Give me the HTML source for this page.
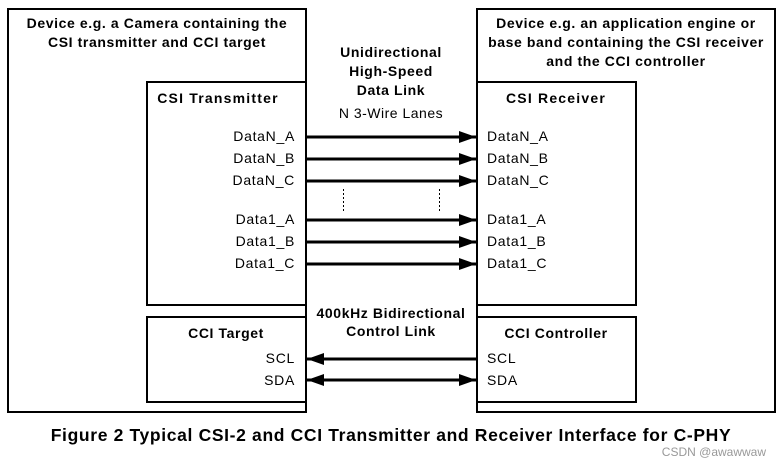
<!DOCTYPE html>
<html><head><meta charset="utf-8"><style>
html,body{margin:0;padding:0;background:#fff;}
svg{display:block;}
text{font-family:"Liberation Sans",Arial,sans-serif;fill:#000;}
.b{font-weight:bold;font-size:14px;letter-spacing:0.6px;}
.n{font-size:14px;letter-spacing:0.7px;}
</style></head><body>
<svg width="782" height="463" viewBox="0 0 782 463" xmlns="http://www.w3.org/2000/svg">
<defs>
<marker id="ah" markerWidth="17" markerHeight="12" refX="17" refY="6" orient="auto" markerUnits="userSpaceOnUse">
<path d="M0,0 L17,6 L0,12 Z" fill="#000"/></marker>
<marker id="as" markerWidth="17" markerHeight="12" refX="0" refY="6" orient="auto" markerUnits="userSpaceOnUse">
<path d="M17,0 L0,6 L17,12 Z" fill="#000"/></marker>
</defs>
<g fill="none" stroke="#000" stroke-width="2">
<rect x="8" y="9" width="298" height="403"/>
<rect x="477" y="9" width="298" height="403"/>
<rect x="147" y="82" width="159" height="223"/>
<rect x="147" y="317" width="159" height="85"/>
<rect x="477" y="82" width="159" height="223"/>
<rect x="477" y="317" width="159" height="85"/>
</g>
<g stroke="#000" stroke-width="3">
<line x1="307" y1="137" x2="476" y2="137" marker-end="url(#ah)"/>
<line x1="307" y1="159" x2="476" y2="159" marker-end="url(#ah)"/>
<line x1="307" y1="181" x2="476" y2="181" marker-end="url(#ah)"/>
<line x1="307" y1="220" x2="476" y2="220" marker-end="url(#ah)"/>
<line x1="307" y1="242" x2="476" y2="242" marker-end="url(#ah)"/>
<line x1="307" y1="264" x2="476" y2="264" marker-end="url(#ah)"/>
<line x1="476" y1="359" x2="307" y2="359" marker-end="url(#ah)"/>
<line x1="307" y1="380" x2="476" y2="380" marker-start="url(#as)" marker-end="url(#ah)"/>
</g>
<g stroke="#000" stroke-width="1" stroke-dasharray="2,2">
<line x1="343.5" y1="189" x2="343.5" y2="211"/>
<line x1="439.5" y1="189" x2="439.5" y2="211"/>
</g>
<text class="b" x="157" y="28" text-anchor="middle">Device e.g. a Camera containing the</text>
<text class="b" x="157" y="47" text-anchor="middle">CSI transmitter and CCI target</text>
<text class="b" x="626" y="28" text-anchor="middle">Device e.g. an application engine or</text>
<text class="b" x="626" y="47" text-anchor="middle">base band containing the CSI receiver</text>
<text class="b" x="626" y="66" text-anchor="middle">and the CCI controller</text>
<text class="b" x="391" y="57" text-anchor="middle">Unidirectional</text>
<text class="b" x="391" y="76" text-anchor="middle">High-Speed</text>
<text class="b" x="391" y="95" text-anchor="middle">Data  Link</text>
<text class="n" x="391" y="118" text-anchor="middle" style="letter-spacing:0.5px">N 3-Wire Lanes</text>
<text class="b" x="218" y="103" text-anchor="middle" style="letter-spacing:1.2px">CSI Transmitter</text>
<text class="b" x="556" y="103" text-anchor="middle" style="letter-spacing:1.2px">CSI Receiver</text>
<g text-anchor="end">
<text class="n" x="295" y="141">DataN_A</text>
<text class="n" x="295" y="163">DataN_B</text>
<text class="n" x="295" y="185">DataN_C</text>
<text class="n" x="295" y="224">Data1_A</text>
<text class="n" x="295" y="246">Data1_B</text>
<text class="n" x="295" y="268">Data1_C</text>
<text class="n" x="295" y="363">SCL</text>
<text class="n" x="295" y="385">SDA</text>
</g>
<text class="n" x="487" y="141">DataN_A</text>
<text class="n" x="487" y="163">DataN_B</text>
<text class="n" x="487" y="185">DataN_C</text>
<text class="n" x="487" y="224">Data1_A</text>
<text class="n" x="487" y="246">Data1_B</text>
<text class="n" x="487" y="268">Data1_C</text>
<text class="n" x="487" y="363">SCL</text>
<text class="n" x="487" y="385">SDA</text>
<text class="b" x="391" y="318" text-anchor="middle">400kHz Bidirectional</text>
<text class="b" x="391" y="336" text-anchor="middle">Control Link</text>
<text class="b" x="226" y="338" text-anchor="middle">CCI Target</text>
<text class="b" x="556" y="338" text-anchor="middle">CCI Controller</text>
<text x="391" y="441" text-anchor="middle" style="font-weight:bold;font-size:17.5px;letter-spacing:0.65px">Figure 2 Typical CSI-2 and CCI Transmitter and Receiver Interface for C-PHY</text>
<text x="766" y="456" text-anchor="end" style="font-size:12px;fill:#999">CSDN @awawwaw</text>
</svg>
</body></html>
